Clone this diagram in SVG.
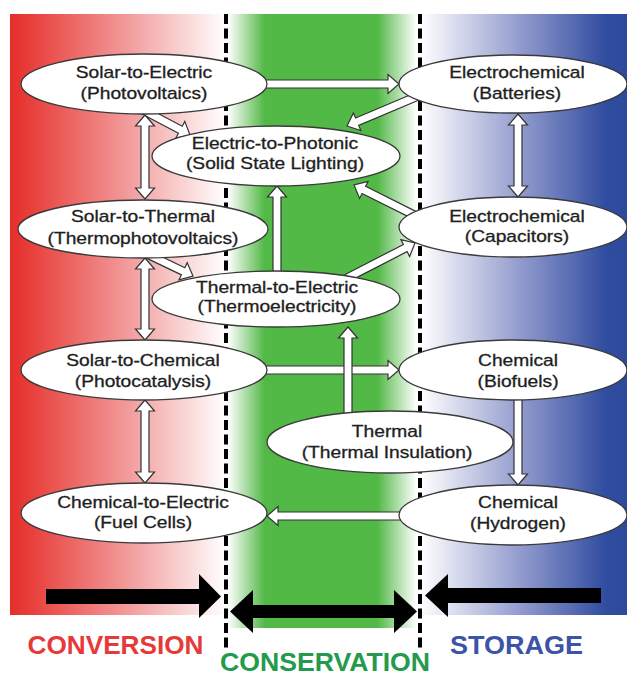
<svg xmlns="http://www.w3.org/2000/svg" width="627" height="677" viewBox="0 0 627 677">
<defs>
<linearGradient id="gRed" gradientUnits="userSpaceOnUse" x1="10" y1="0" x2="226" y2="0">
<stop offset="0" stop-color="#E52E2A"/><stop offset="0.1" stop-color="#E8403C"/><stop offset="0.55" stop-color="#F29C9C"/><stop offset="1" stop-color="#FFFFFF"/>
</linearGradient>
<linearGradient id="gGreen" gradientUnits="userSpaceOnUse" x1="226" y1="0" x2="420" y2="0">
<stop offset="0.01" stop-color="#FFFFFF"/><stop offset="0.2" stop-color="#52B846"/><stop offset="0.78" stop-color="#52B846"/><stop offset="0.98" stop-color="#FFFFFF"/>
</linearGradient>
<linearGradient id="gBlue" gradientUnits="userSpaceOnUse" x1="420" y1="0" x2="627" y2="0">
<stop offset="0" stop-color="#FFFFFF"/><stop offset="0.5" stop-color="#8F98CC"/><stop offset="0.9" stop-color="#2F4C9F"/><stop offset="1" stop-color="#2D4A9D"/>
</linearGradient>
<style>
.n ellipse{fill:#FFFFFF;stroke:#3a3a3a;stroke-width:1.3}
.n text{font-family:"Liberation Sans",Arial,sans-serif;font-size:16px;fill:#1e1e1e;stroke:#1e1e1e;stroke-width:0.3;text-anchor:middle}
.c polygon{fill:#FFFFFF;stroke:#333333;stroke-width:1.2;stroke-linejoin:miter}
.b polygon{fill:#000000}
.dash{stroke:#000000;stroke-width:4;stroke-dasharray:10 4.5;fill:none}
.lbl{font-family:"Liberation Sans",Arial,sans-serif;font-weight:bold;font-size:26px;text-anchor:middle}
</style>
</defs>
<g id="background">
<rect x="10" y="14" width="216" height="601" fill="url(#gRed)"/>
<rect x="226" y="14" width="194" height="614" fill="url(#gGreen)"/>
<rect x="420" y="14" width="207" height="601" fill="url(#gBlue)"/>
<line class="dash" x1="226" y1="14" x2="226" y2="650"/>
<line class="dash" x1="420" y1="14" x2="420" y2="650"/>
</g>
<g id="connectors" class="c">
<polygon points="262,88 388,88 388,93.5 399,84 388,74.5 388,80 262,80"/>
<polygon points="416.4,92.3 355.6,118 353.4,113 347,126 360.8,130.5 358.7,125.4 419.6,99.7"/>
<polygon points="141.1,113.5 178.4,133.3 175.8,138.2 190,135 184.8,121.4 182.2,126.3 144.9,106.5"/>
<polygon points="145,115 154.5,126 149,126 149,188 154.5,188 145,199 135.5,188 141,188 141,126 135.5,126"/>
<polygon points="417.8,212.4 365.6,186.3 368.1,181.4 354,185 359.6,198.4 362.1,193.5 414.2,219.6"/>
<polygon points="518,114 527.5,125 522,125 522,186 527.5,186 518,197 508.5,186 514,186 514,125 508.5,125"/>
<polygon points="277,186 286.5,197 281,197 281,278 273,278 273,197 267.5,197"/>
<polygon points="141.3,255.6 181.4,274.9 179,279.8 193,276 187.2,262.7 184.8,267.7 144.7,248.4"/>
<polygon points="348.8,281.6 407.1,251.6 409.6,256.5 415,243 400.9,239.6 403.4,244.5 345.2,274.4"/>
<polygon points="145,258 154.5,269 149,269 149,329 154.5,329 145,340 135.5,329 141,329 141,269 135.5,269"/>
<polygon points="262,366 388,366 388,360.5 399,370 388,379.5 388,374 262,374"/>
<polygon points="348,327 357.5,338 352,338 352,415 344,415 344,338 338.5,338"/>
<polygon points="145,400 154.5,411 149,411 149,472 154.5,472 145,483 135.5,472 141,472 141,411 135.5,411"/>
<polygon points="514,396 522,396 522,474 527.5,474 518,485 508.5,474 514,474"/>
<polygon points="404,512 278,512 278,506.5 267,516 278,525.5 278,520 404,520"/>
</g>
<g id="n-solar-electric" class="n">
<ellipse cx="144" cy="84" rx="123" ry="30"/>
<text transform="translate(144 0) scale(1.2 1)"><tspan x="0" y="78">Solar-to-Electric</tspan><tspan x="0" y="99.5">(Photovoltaics)</tspan></text>
</g>
<g id="n-batteries" class="n">
<ellipse cx="513" cy="84" rx="114" ry="29"/>
<text transform="translate(517 0) scale(1.2 1)"><tspan x="0" y="78">Electrochemical</tspan><tspan x="0" y="99.5">(Batteries)</tspan></text>
</g>
<g id="n-electric-photonic" class="n">
<ellipse cx="276" cy="156" rx="124" ry="30"/>
<text transform="translate(275 0) scale(1.2 1)"><tspan x="0" y="149">Electric-to-Photonic</tspan><tspan x="0" y="169">(Solid State Lighting)</tspan></text>
</g>
<g id="n-solar-thermal" class="n">
<ellipse cx="143" cy="229" rx="125" ry="29"/>
<text transform="translate(143 0) scale(1.2 1)"><tspan x="0" y="222">Solar-to-Thermal</tspan><tspan x="0" y="244">(Thermophotovoltaics)</tspan></text>
</g>
<g id="n-capacitors" class="n">
<ellipse cx="513" cy="227" rx="114" ry="30"/>
<text transform="translate(517 0) scale(1.2 1)"><tspan x="0" y="222">Electrochemical</tspan><tspan x="0" y="242.5">(Capacitors)</tspan></text>
</g>
<g id="n-thermal-electric" class="n">
<ellipse cx="276" cy="299" rx="124" ry="28"/>
<text transform="translate(277 0) scale(1.2 1)"><tspan x="0" y="293">Thermal-to-Electric</tspan><tspan x="0" y="312">(Thermoelectricity)</tspan></text>
</g>
<g id="n-solar-chemical" class="n">
<ellipse cx="144" cy="370" rx="123" ry="30"/>
<text transform="translate(143 0) scale(1.2 1)"><tspan x="0" y="366">Solar-to-Chemical</tspan><tspan x="0" y="387">(Photocatalysis)</tspan></text>
</g>
<g id="n-biofuels" class="n">
<ellipse cx="513" cy="370" rx="114" ry="30"/>
<text transform="translate(518 0) scale(1.2 1)"><tspan x="0" y="366">Chemical</tspan><tspan x="0" y="387">(Biofuels)</tspan></text>
</g>
<g id="n-thermal" class="n">
<ellipse cx="390" cy="442" rx="123" ry="31"/>
<text transform="translate(387 0) scale(1.2 1)"><tspan x="0" y="437">Thermal</tspan><tspan x="0" y="458">(Thermal Insulation)</tspan></text>
</g>
<g id="n-chemical-electric" class="n">
<ellipse cx="144" cy="513" rx="123" ry="30"/>
<text transform="translate(143 0) scale(1.2 1)"><tspan x="0" y="508">Chemical-to-Electric</tspan><tspan x="0" y="528">(Fuel Cells)</tspan></text>
</g>
<g id="n-hydrogen" class="n">
<ellipse cx="513" cy="515" rx="114" ry="30"/>
<text transform="translate(518 0) scale(1.2 1)"><tspan x="0" y="508">Chemical</tspan><tspan x="0" y="529">(Hydrogen)</tspan></text>
</g>
<g id="bottom-arrows" class="b">
<polygon points="46,589 199,589 199,574 221,596.5 199,618 199,604 46,604"/>
<polygon points="230,611.5 253,590 253,605 394,605 394,590 417,611.5 394,633 394,618 253,618 253,633"/>
<polygon points="425,595.5 448,574 448,588 601,588 601,603 448,603 448,617"/>
</g>
<g id="labels">
<text class="lbl" x="115.5" y="654" fill="#E63A3A" textLength="176" lengthAdjust="spacingAndGlyphs">CONVERSION</text>
<text class="lbl" x="325" y="671" fill="#239A4C" textLength="210" lengthAdjust="spacingAndGlyphs">CONSERVATION</text>
<text class="lbl" x="516.5" y="654" fill="#3B54A6" textLength="133" lengthAdjust="spacingAndGlyphs">STORAGE</text>
</g>
</svg>
